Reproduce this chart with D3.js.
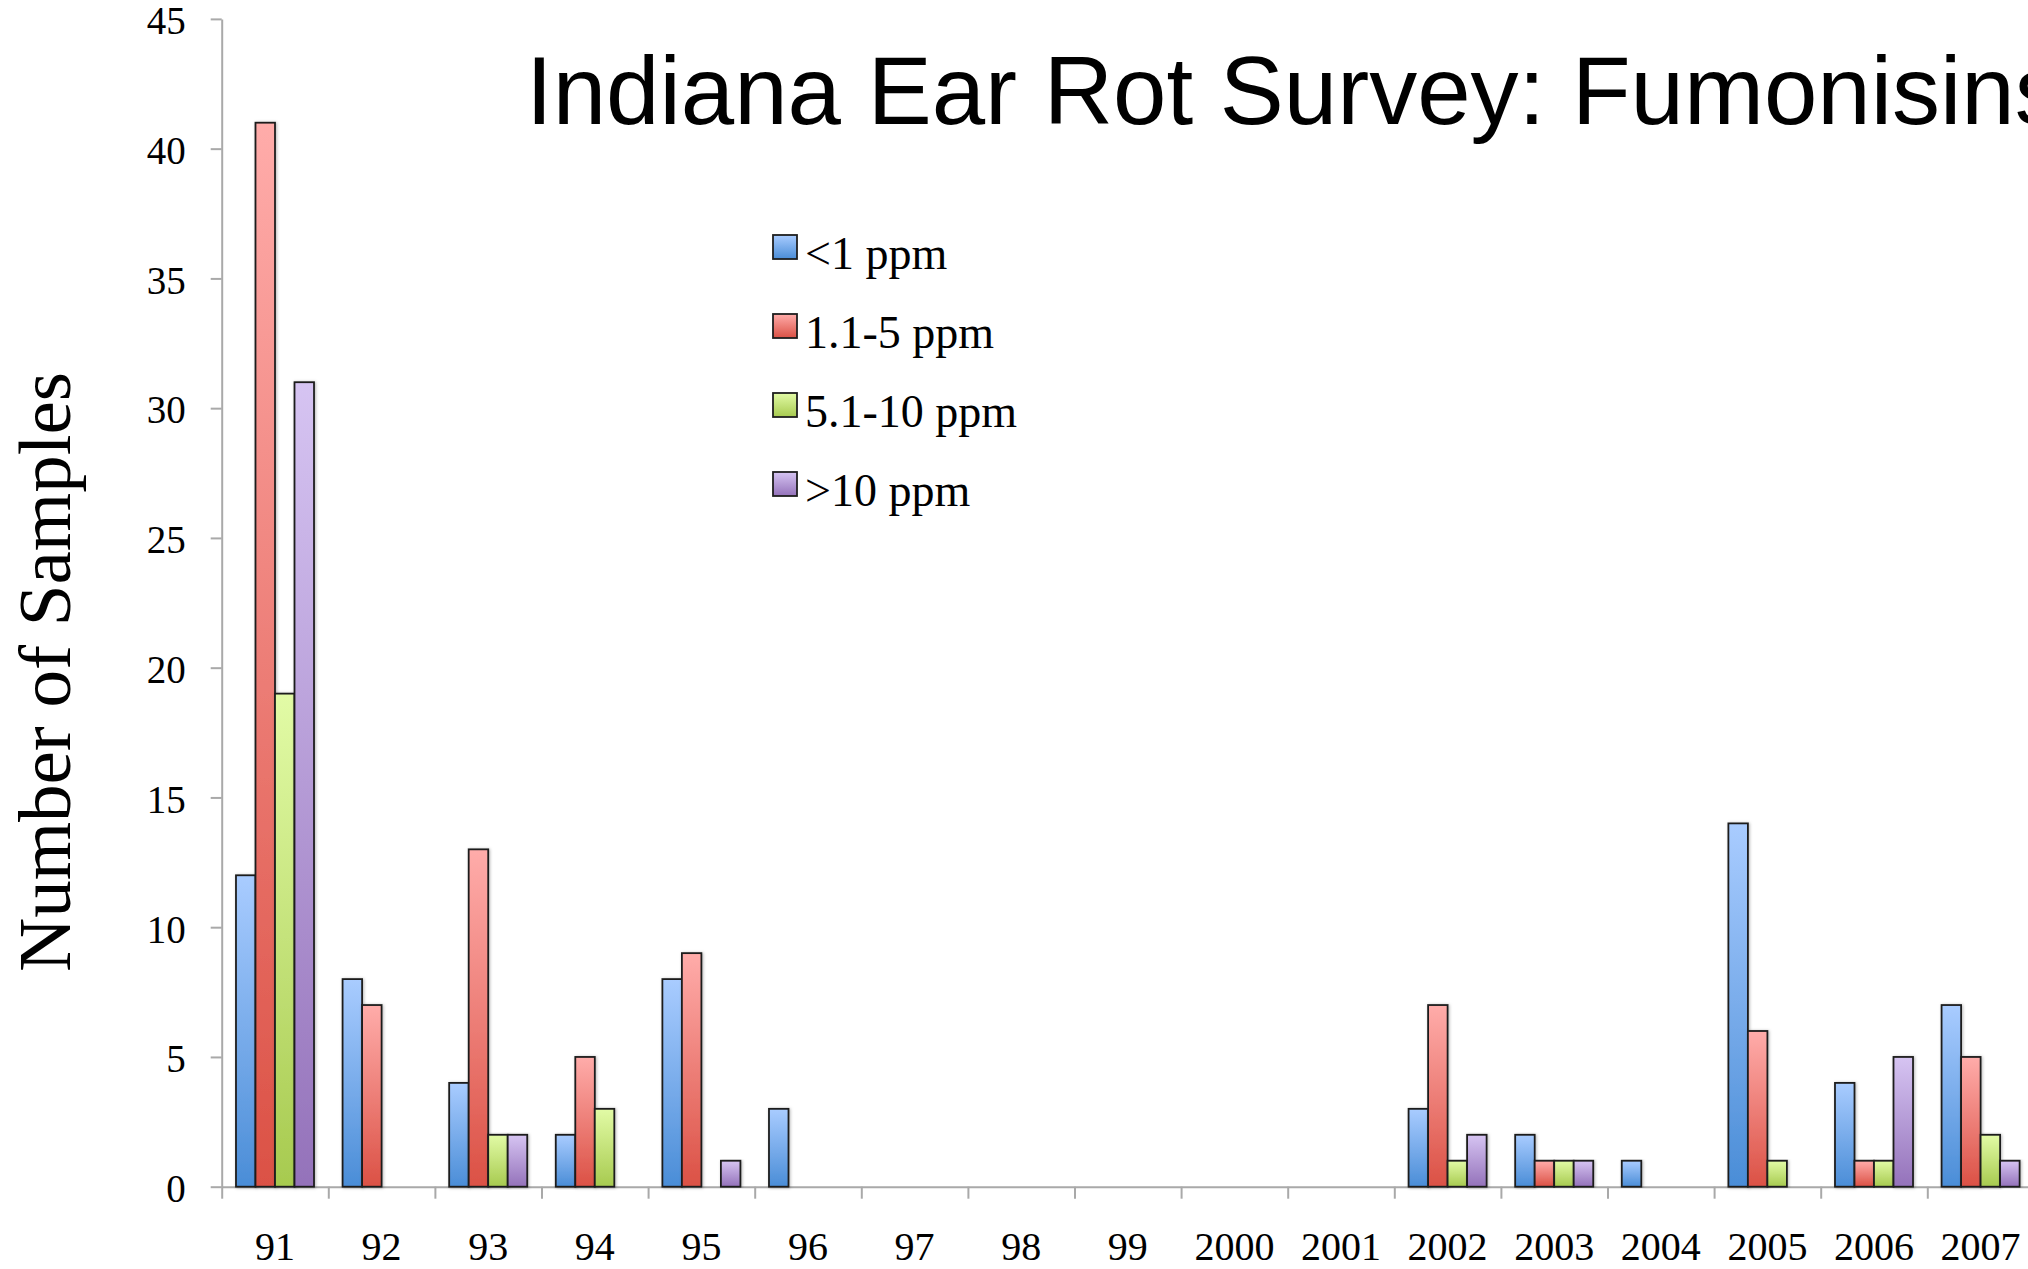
<!DOCTYPE html>
<html>
<head>
<meta charset="utf-8">
<script src="https://cdn.jsdelivr.net/npm/d3@7"></script>
<style>
  html, body { margin: 0; padding: 0; background: #fff; overflow: hidden; }
  svg { display: block; }
</style>
</head>
<body>
<svg id="chart" width="2028" height="1269"></svg>
<script>
// Survey years (x categories)
const years = ["91", "92", "93", "94", "95", "96", "97", "98", "99", "2000", "2001",
               "2002", "2003", "2004", "2005", "2006", "2007"];

// Fumonisin concentration classes
const seriesNames = ["<1 ppm", "1.1-5 ppm", "5.1-10 ppm", ">10 ppm"];

// Number of samples per class, one array per class, aligned with years
const below1   = [12, 8, 4, 2, 8, 3, 0, 0, 0, 0, 0, 3, 2, 1, 14, 4, 7];
const from1to5 = [41, 7, 13, 5, 9, 0, 0, 0, 0, 0, 0, 7, 1, 0, 6, 1, 5];
const from5to10 = [19, 0, 2, 3, 0, 0, 0, 0, 0, 0, 0, 1, 1, 0, 1, 1, 2];
const above10  = [31, 0, 2, 0, 1, 0, 0, 0, 0, 0, 0, 2, 1, 0, 0, 5, 1];

const yTicks = [0, 5, 10, 15, 20, 25, 30, 35, 40, 45];

const seriesValues = [below1, from1to5, from5to10, above10];

// Gradient stops (top, bottom) for each class
const gradTop    = ["#a9ccff", "#ffacaa", "#e2fba6", "#d6c4f2"];
const gradBottom = ["#4a8dd7", "#db5145", "#a7ca4f", "#9472ba"];

const serif = "'Liberation Serif', 'Times New Roman', serif";

const svg = d3.select("#chart");
const defs = svg.append("defs");

seriesNames.forEach((name, i) => {
  const g = defs.append("linearGradient")
    .attr("id", "grad" + i)
    .attr("x1", 0).attr("y1", 0).attr("x2", 0).attr("y2", 1);
  g.append("stop").attr("offset", "0%").attr("stop-color", gradTop[i]);
  g.append("stop").attr("offset", "100%").attr("stop-color", gradBottom[i]);
});

const shadow = defs.append("filter").attr("id", "barShadow")
  .attr("x", "-30%").attr("y", "-5%").attr("width", "160%").attr("height", "110%");
shadow.append("feDropShadow")
  .attr("dx", 1).attr("dy", 0.5).attr("stdDeviation", 1.6)
  .attr("flood-color", "#000").attr("flood-opacity", 0.28);

// Plot frame
const x0 = 221.7, step = 106.6;
const yZero = 1186.7, yTop = 18.9;

const x = d3.scaleBand().domain(years).range([x0, x0 + step * years.length]).padding(0);
const xInner = d3.scaleBand().domain(d3.range(seriesNames.length))
  .range([step * 0.134, step * 0.866]).padding(0);
const y = d3.scaleLinear().domain([0, 45]).range([yZero, yTop]);
const boundary = d3.scaleLinear().domain([0, years.length]).range([x0, x0 + step * years.length]);

const axisColor = "#a9a9a9";

// Y axis
const yAxis = svg.append("g")
  .attr("transform", `translate(${x0},0)`)
  .call(d3.axisLeft(y).tickValues(yTicks).tickSize(11).tickSizeOuter(0).tickPadding(25));
yAxis.select(".domain").attr("stroke", axisColor).attr("stroke-width", 2);
yAxis.selectAll(".tick line").attr("stroke", axisColor).attr("stroke-width", 2);
yAxis.selectAll(".tick text")
  .attr("font-family", serif)
  .attr("font-size", 39).attr("fill", "#000").attr("dy", "0.38em");

// X axis: boundary ticks between years
const xTickAxis = svg.append("g")
  .attr("transform", `translate(0,${yZero})`)
  .call(d3.axisBottom(boundary).tickValues(d3.range(0, years.length + 1))
    .tickSize(12).tickSizeOuter(0).tickFormat(""));
xTickAxis.select(".domain").attr("stroke", axisColor).attr("stroke-width", 2);
xTickAxis.selectAll(".tick line").attr("stroke", axisColor).attr("stroke-width", 2);

// X axis: year labels centred under each group
const xLabelAxis = svg.append("g")
  .attr("transform", `translate(0,${yZero})`)
  .call(d3.axisBottom(x).tickSize(0).tickPadding(0));
xLabelAxis.select(".domain").remove();
xLabelAxis.selectAll(".tick text")
  .attr("font-family", serif)
  .attr("font-size", 40).attr("fill", "#000")
  .attr("dy", null)
  .attr("y", 73);

// Bars
const groups = svg.append("g").selectAll("g")
  .data(years)
  .join("g")
  .attr("transform", d => `translate(${x(d)},0)`);

groups.selectAll("rect")
  .data((d, yi) => seriesValues.map((vals, si) => ({ si, v: vals[yi] })).filter(e => e.v > 0))
  .join("rect")
  .attr("x", d => xInner(d.si))
  .attr("width", xInner.bandwidth())
  .attr("y", d => y(d.v))
  .attr("height", d => yZero - y(d.v))
  .attr("fill", d => `url(#grad${d.si})`)
  .attr("stroke", "#1e1e1e")
  .attr("stroke-width", 1.8)
  .attr("filter", "url(#barShadow)");

// Legend
const legend = svg.append("g").attr("transform", "translate(773,235)");
const legendRows = legend.selectAll("g")
  .data(seriesNames)
  .join("g")
  .attr("transform", (d, i) => `translate(0,${i * 79})`);
legendRows.append("rect")
  .attr("width", 24).attr("height", 24)
  .attr("fill", (d, i) => `url(#grad${i})`)
  .attr("stroke", "#1e1e1e").attr("stroke-width", 1.8);
legendRows.append("text")
  .attr("x", 32).attr("y", 34)
  .attr("font-family", serif)
  .attr("font-size", 46).attr("fill", "#000")
  .text(d => d);

// Y axis title
svg.append("text")
  .attr("transform", "translate(70,672) rotate(-90)")
  .attr("text-anchor", "middle")
  .attr("font-family", serif)
  .attr("font-size", 75).attr("fill", "#000")
  .text("Number of Samples");

// Chart title
svg.append("text")
  .attr("x", 526).attr("y", 124)
  .attr("font-family", "'Liberation Sans', Arial, sans-serif")
  .attr("font-size", 96).attr("fill", "#000")
  .text("Indiana Ear Rot Survey: Fumonisins");
</script>
</body>
</html>
